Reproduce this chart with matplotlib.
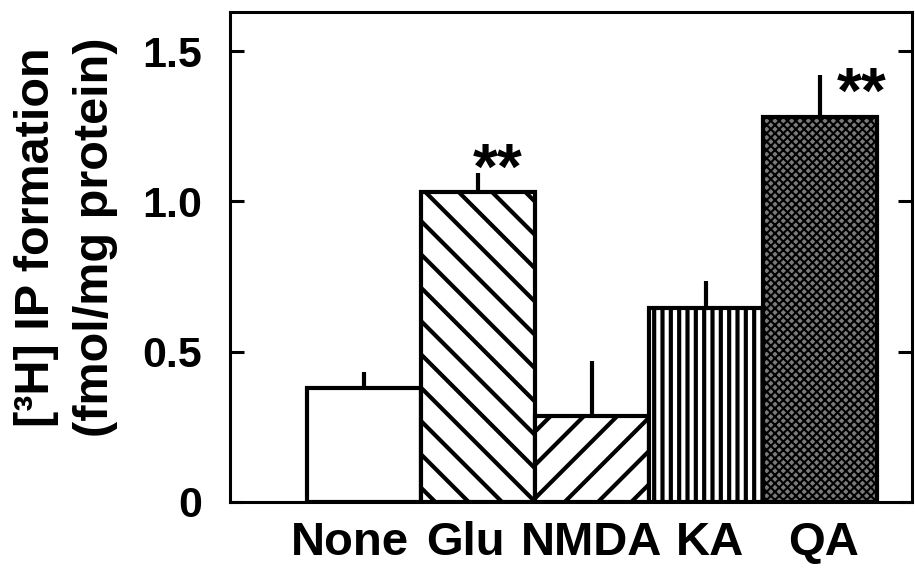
import matplotlib
matplotlib.use("Agg")
import matplotlib.pyplot as plt
import matplotlib.transforms as mtransforms
import numpy as np

plt.rcParams['font.family'] = ['Liberation Sans', 'DejaVu Sans']
plt.rcParams['hatch.linewidth'] = 3.0

# datos
grupos = ["None", "Glu", "NMDA", "KA", "QA"]
medias = [0.38, 1.03, 0.285, 0.645, 1.28]
errores = [0.053, 0.065, 0.185, 0.09, 0.14]
signif = ["", "**", "", "", "**"]

tramas = ["", "\\", "/", "||", "xxxx"]
rellenos = ["white", "white", "white", "white", "#7a7a7a"]

fig = plt.figure(figsize=(9.15, 5.68), dpi=100)
ax = fig.add_axes([0.2514, 0.1162, 0.7453, 0.8627])

x = np.arange(len(grupos))
barras = ax.bar(x, medias, width=1.0, color=rellenos, edgecolor="black",
                linewidth=3, hatch=tramas, zorder=2)
# la trama de QA es mas fina
if hasattr(barras[4], "set_hatch_linewidth"):
    barras[4].set_hatch_linewidth(1.5)

# solo la barra de error superior
ax.errorbar(x, medias, yerr=[np.zeros(len(errores)), errores], fmt="none",
            ecolor="black", elinewidth=3, capsize=0, zorder=1)

# asteriscos de significancia (desplazamiento en puntos desde la punta del error)
offs = {1: (14, -11.5), 4: (30, -27)}
for i, s in enumerate(signif):
    if s:
        ax.annotate(s, (x[i], medias[i] + errores[i]), xytext=offs[i],
                    textcoords="offset points", ha="center", va="baseline",
                    fontsize=46, fontweight="bold")

ax.set_xlim(-1.175, 4.81)
ax.set_ylim(0, 1.63)
ax.set_yticks([0, 0.5, 1.0, 1.5])
ax.set_yticklabels(["0", "0.5", "1.0", "1.5"])
ax.set_xticks(x)
ax.set_xticklabels(grupos)

ax.tick_params(axis="y", direction="in", length=10, width=2.2, labelsize=31,
               pad=20, right=True)
ax.tick_params(axis="x", length=0, labelsize=34, pad=14)
for lab in ax.get_xticklabels() + ax.get_yticklabels():
    lab.set_fontweight("bold")
# en el original None y Glu quedan algo a la izquierda
corr = [-10, -9, 0, 3, 3]
for lab, d in zip(ax.get_xticklabels(), corr):
    lab.set_transform(lab.get_transform() + mtransforms.ScaledTranslation(d / 72, 0, fig.dpi_scale_trans))
for sp in ax.spines.values():
    sp.set_linewidth(2.2)

fig.text(0.04, 0.583, "[³H] IP formation", rotation=90, ha="center", va="center",
         fontsize=35, fontweight="bold")
fig.text(0.104, 0.583, "(fmol/mg protein)", rotation=90, ha="center", va="center",
         fontsize=35, fontweight="bold")

fig.savefig("out.png", dpi=100)
